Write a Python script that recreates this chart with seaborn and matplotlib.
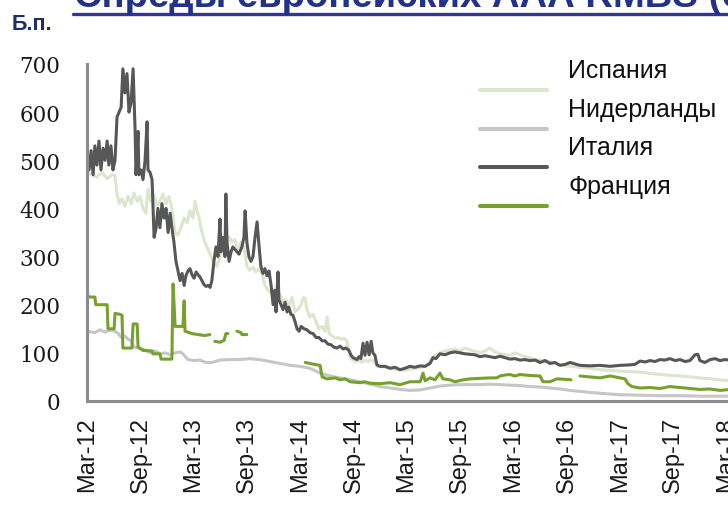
import matplotlib
matplotlib.use("Agg")
import matplotlib.pyplot as plt
import matplotlib.dates as mdates
from matplotlib.lines import Line2D
import numpy as np
import pandas as pd
import seaborn as sns

# ---------------- data ----------------
italy_dates = [
    "2012-03-01","2012-03-08","2012-03-15","2012-03-22","2012-03-28","2012-04-04","2012-04-11","2012-04-18",
    "2012-04-25","2012-05-02","2012-05-09","2012-05-15","2012-05-22","2012-05-29","2012-06-05","2012-06-12",
    "2012-06-19","2012-06-26","2012-07-02","2012-07-09","2012-07-16","2012-07-23","2012-07-30","2012-08-06",
    "2012-08-13","2012-08-16","2012-08-23","2012-08-26","2012-09-02","2012-09-09","2012-09-16","2012-09-23",
    "2012-09-26","2012-10-03","2012-10-10","2012-10-17","2012-10-24","2012-10-30","2012-11-06","2012-11-13",
    "2012-11-20","2012-11-27","2012-12-04","2012-12-11","2012-12-17","2012-12-24","2012-12-31","2013-01-07",
    "2013-01-14","2013-01-21","2013-01-28","2013-02-03","2013-02-10","2013-02-17","2013-02-24","2013-03-03",
    "2013-03-10","2013-03-17","2013-03-23","2013-03-30","2013-04-06","2013-04-13","2013-04-20","2013-04-27",
    "2013-05-03","2013-05-10","2013-05-17","2013-05-24","2013-05-31","2013-06-03","2013-06-10","2013-06-17",
    "2013-06-20","2013-06-24","2013-07-01","2013-07-08","2013-07-14","2013-07-25","2013-08-04","2013-08-14",
    "2013-08-21","2013-08-25","2013-08-31","2013-09-07","2013-09-14","2013-09-21","2013-09-28","2013-10-05",
    "2013-10-12","2013-10-18","2013-10-25","2013-11-01","2013-11-08","2013-11-15","2013-11-22","2013-11-29",
    "2013-12-05","2013-12-09","2013-12-16","2013-12-19","2013-12-26","2014-01-02","2014-01-09","2014-01-16",
    "2014-01-22","2014-01-29","2014-02-05","2014-02-12","2014-02-19","2014-02-26","2014-03-05","2014-03-15",
    "2014-03-25","2014-04-04","2014-04-15","2014-04-25","2014-05-05","2014-05-16","2014-05-26","2014-06-05",
    "2014-06-15","2014-06-25","2014-07-06","2014-07-16","2014-07-27","2014-08-06","2014-08-16","2014-08-23",
    "2014-08-30","2014-09-06","2014-09-13","2014-09-19","2014-09-26","2014-10-03","2014-10-10","2014-10-17",
    "2014-10-24","2014-10-31","2014-11-06","2014-11-13","2014-11-20","2014-11-30","2014-12-18","2015-01-04",
    "2015-01-21","2015-02-07","2015-02-24","2015-03-13","2015-03-30","2015-04-17","2015-05-04","2015-05-21",
    "2015-05-31","2015-06-10","2015-06-24","2015-07-11","2015-07-28","2015-08-14","2015-09-01","2015-09-18",
    "2015-10-05","2015-10-22","2015-11-08","2015-11-25","2015-12-12","2015-12-30","2016-01-16","2016-02-02",
    "2016-02-19","2016-03-07","2016-03-24","2016-04-10","2016-04-27","2016-05-15","2016-06-01","2016-06-18",
    "2016-07-05","2016-07-22","2016-08-08","2016-08-26","2016-09-12","2016-09-29","2016-10-16","2016-11-19",
    "2016-12-24","2017-01-27","2017-03-02","2017-04-05","2017-04-22","2017-05-10","2017-05-27","2017-06-13",
    "2017-06-30","2017-07-17","2017-08-03","2017-08-20","2017-09-07","2017-09-24","2017-10-11","2017-10-28",
    "2017-11-14","2017-11-24","2017-12-01","2017-12-18","2018-01-05","2018-01-22","2018-02-08","2018-02-25",
    "2018-03-14",
]
italy_values = [
    510, 480, 520, 470, 530, 490, 540, 480,
    525, 500, 540, 490, 530, 480, 500, 590,
    600, 610, 690, 640, 680, 600, 620, 690,
    560, 470, 560, 470, 480, 460, 500, 580,
    480, 475, 460, 340, 360, 400, 360, 410,
    380, 400, 350, 390, 360, 330, 290, 270,
    250, 265, 240, 260, 270, 275, 262, 255,
    268, 262, 258, 250, 242, 238, 240, 236,
    250, 290, 320, 300, 378, 310, 340, 300,
    430, 330, 290, 310, 320, 312, 305, 320,
    340, 395, 330, 300, 290, 300, 340, 372,
    320, 280, 265, 275, 260, 270, 240, 200,
    230, 185, 268, 210, 200, 190, 205, 185,
    195, 180, 178, 165, 150, 145, 155, 150,
    148, 142, 140, 132, 132, 125, 125, 118,
    117, 112, 110, 114, 108, 110, 105, 95,
    90, 88, 86, 92, 88, 120, 95, 122,
    96, 124, 100, 95, 75, 72, 72, 68,
    70, 65, 68, 72, 70, 73, 72, 78,
    90, 88, 98, 96, 100, 102, 100, 98,
    97, 96, 92, 94, 92, 90, 93, 90,
    87, 88, 85, 86, 84, 85, 80, 84,
    78, 80, 74, 76, 80, 77, 74, 73,
    74, 72, 74, 75, 76, 83, 81, 84,
    82, 86, 85, 88, 84, 86, 82, 84,
    96, 97, 84, 80, 86, 88, 84, 86,
    85,
]

spain_dates = [
    "2012-03-01","2012-03-18","2012-04-04","2012-04-21","2012-05-09","2012-05-26","2012-06-05","2012-06-12",
    "2012-06-19","2012-06-29","2012-07-09","2012-07-20","2012-07-30","2012-08-09","2012-08-20","2012-08-30",
    "2012-09-09","2012-09-19","2012-09-26","2012-10-06","2012-10-17","2012-10-27","2012-11-06","2012-11-16",
    "2012-11-27","2012-12-07","2012-12-17","2012-12-28","2013-01-07","2013-01-17","2013-01-28","2013-02-07",
    "2013-02-17","2013-02-27","2013-03-06","2013-03-13","2013-03-20","2013-03-30","2013-04-09","2013-04-20",
    "2013-04-30","2013-05-10","2013-05-20","2013-05-31","2013-06-10","2013-06-20","2013-07-01","2013-07-11",
    "2013-07-21","2013-08-01","2013-08-11","2013-08-21","2013-08-31","2013-09-10","2013-09-21","2013-10-01",
    "2013-10-12","2013-10-22","2013-11-01","2013-11-11","2013-11-22","2013-12-02","2013-12-12","2013-12-23",
    "2014-01-02","2014-01-12","2014-01-22","2014-02-02","2014-02-12","2014-02-22","2014-03-05","2014-03-12",
    "2014-03-19","2014-03-25","2014-04-04","2014-04-15","2014-04-25","2014-05-05","2014-05-16","2014-05-26",
    "2014-06-02","2014-06-09","2014-06-19","2014-06-30","2014-07-10","2014-07-20","2014-07-30","2014-08-09",
    "2014-08-20","2014-08-30","2014-09-09","2014-09-19","2014-09-30","2014-10-10","2014-10-20","2014-10-31",
    "2014-11-10","2014-11-20","2014-12-18","2015-01-21","2015-02-24","2015-03-30","2015-05-04","2015-05-21",
    "2015-06-07","2015-06-24","2015-07-11","2015-07-28","2015-08-14","2015-09-01","2015-09-18","2015-10-05",
    "2015-10-22","2015-11-08","2015-11-25","2015-12-12","2015-12-30","2016-01-16","2016-02-02","2016-02-19",
    "2016-03-07","2016-03-24","2016-04-10","2016-04-27","2016-05-15","2016-06-01","2016-06-18","2016-07-05",
    "2016-07-22","2016-08-08","2016-09-12","2016-10-16","2016-11-19","2016-12-24","2017-03-02","2017-05-10",
    "2017-07-17","2017-09-24","2017-12-01","2018-01-22","2018-03-14",
]
spain_values = [
    476, 470, 465, 475, 462, 470, 468, 430,
    410, 420, 405, 425, 410, 432, 415, 425,
    400, 390, 440, 415, 428, 405, 415, 430,
    410, 425, 400, 350, 345, 360, 380, 370,
    395, 380, 415, 395, 380, 350, 330, 315,
    300, 285, 280, 300, 330, 318, 340, 330,
    335, 310, 330, 320, 280, 272, 278, 268,
    275, 265, 240, 230, 225, 218, 225, 220,
    205, 210, 200, 215, 185, 190, 200, 215,
    212, 190, 175, 180, 165, 150, 155, 145,
    175, 140, 135, 130, 132, 128, 130, 125,
    90, 85, 82, 84, 80, 85, 82, 86,
    82, 72, 70, 66, 64, 68, 72, 82,
    95, 100, 104, 106, 108, 104, 110, 106,
    103, 100, 104, 110, 102, 98, 96, 95,
    100, 96, 92, 90, 86, 85, 83, 82,
    78, 75, 72, 70, 68, 65, 62, 60,
    55, 52, 48, 45, 42,
]

neth_dates = [
    "2012-03-01","2012-03-28","2012-04-15","2012-05-02","2012-05-19","2012-06-05","2012-06-16","2012-06-26",
    "2012-07-09","2012-07-20","2012-07-30","2012-08-09","2012-08-23","2012-09-06","2012-09-19","2012-10-03",
    "2012-10-21","2012-11-06","2012-11-24","2012-12-11","2012-12-28","2013-01-15","2013-01-28","2013-02-10",
    "2013-03-03","2013-03-23","2013-04-13","2013-05-03","2013-05-31","2013-07-04","2013-08-07","2013-09-10",
    "2013-10-14","2013-11-18","2013-12-23","2014-01-26","2014-03-01","2014-04-04","2014-05-09","2014-06-12",
    "2014-07-16","2014-08-20","2014-09-23","2014-10-27","2014-11-30","2015-01-04","2015-02-07","2015-03-13",
    "2015-04-17","2015-05-21","2015-06-24","2015-07-28","2015-09-01","2015-10-05","2015-11-08","2015-12-12",
    "2016-01-16","2016-02-19","2016-03-24","2016-04-27","2016-06-01","2016-07-05","2016-08-08","2016-09-12",
    "2016-10-16","2016-11-19","2016-12-24","2017-03-02","2017-05-10","2017-07-17","2017-09-24","2017-12-01",
    "2018-03-14",
]
neth_values = [
    145, 142, 148, 143, 147, 145, 140, 132,
    135, 128, 125, 112, 110, 108, 105, 100,
    104, 98, 100, 96, 100, 102, 95, 86,
    84, 85, 80, 80, 85, 86, 86, 88,
    86, 82, 78, 74, 72, 68, 58, 52,
    48, 44, 40, 35, 30, 27, 24, 22,
    23, 27, 31, 33, 34, 34, 34, 35,
    34, 33, 32, 30, 29, 27, 25, 22,
    20, 18, 16, 13, 12, 11, 11, 10,
    10,
]

# None marks a gap in the French series
france_dates = [
    "2012-03-01","2012-03-04","2012-03-28","2012-03-31","2012-04-21","2012-05-09","2012-05-12","2012-06-02",
    "2012-06-05","2012-06-22","2012-06-29","2012-07-02","2012-08-02","2012-08-06","2012-08-20","2012-08-23",
    "2012-09-09","2012-10-10","2012-10-13","2012-11-06","2012-11-10","2012-12-17","2012-12-21","2012-12-28",
    "2013-01-24","2013-01-28","2013-01-31","2013-02-24","2013-03-17","2013-04-09","2013-04-26","2013-05-03",
    "2013-05-13","2013-05-31","2013-06-14","2013-06-20","2013-06-27","2013-07-12",
    "2013-07-28","2013-08-11","2013-08-14","2013-08-31","2013-12-01",
    "2014-03-19","2014-04-04","2014-04-21","2014-05-09","2014-05-16","2014-06-02","2014-06-30","2014-07-16",
    "2014-08-03","2014-08-20","2014-09-23","2014-10-10","2014-10-27","2014-11-30","2015-01-04","2015-02-07",
    "2015-03-13","2015-04-17","2015-04-27","2015-05-04","2015-05-21","2015-06-07","2015-06-24","2015-07-04",
    "2015-07-28","2015-08-14","2015-09-11","2015-10-05","2015-11-08","2015-12-12","2016-01-05","2016-01-16",
    "2016-02-02","2016-02-19","2016-03-07","2016-03-24","2016-04-27","2016-06-01","2016-06-11","2016-07-05",
    "2016-07-29","2016-08-26","2016-09-15","2016-10-01",
    "2016-10-16","2016-11-19","2016-12-24","2017-01-27","2017-03-02","2017-03-19","2017-03-29","2017-04-12",
    "2017-05-10","2017-06-13","2017-07-17","2017-08-20","2017-09-24","2017-10-28","2017-12-01","2018-01-05",
    "2018-02-08","2018-03-14",
]
france_values = [
    247, 216, 216, 200, 200, 200, 150, 150,
    182, 180, 178, 110, 110, 160, 160, 112,
    105, 104, 98, 98, 87, 87, 243, 155,
    155, 208, 145, 140, 138, 136, 138, None,
    124, 122, 126, 140, 140, None,
    145, 142, 138, 138, None,
    80, 78, 76, 74, 50, 46, 48, 44,
    46, 40, 38, 40, 37, 36, 38, 34,
    40, 40, 58, 42, 48, 44, 58, 46,
    44, 40, 44, 46, 47, 48, 48, 52,
    54, 55, 52, 55, 53, 52, 40, 40,
    46, 45, 44, None,
    52, 50, 48, 52, 48, 46, 36, 30,
    27, 28, 26, 30, 28, 26, 24, 25,
    22, 24,
]

series_names = ["Испания", "Нидерланды", "Италия", "Франция"]
series_colors = ["#dbe6cc", "#c6c6c6", "#575757", "#76a12e"]
y_ticks = [0, 100, 200, 300, 400, 500, 600, 700]

# ---------------- build frames ----------------
def make_frame(dates, values):
    df = pd.DataFrame({"date": pd.to_datetime(dates), "value": pd.array(values, dtype="Float64")})
    df["seg"] = df["value"].isna().cumsum()
    df = df.dropna().copy()
    df["value"] = df["value"].astype(float)
    return df

frames = [
    make_frame(spain_dates, spain_values),
    make_frame(neth_dates, neth_values),
    make_frame(italy_dates, italy_values),
    make_frame(france_dates, france_values),
]

# ---------------- figure ----------------
sns.set_style("white")
plt.rcParams["font.family"] = ["Liberation Sans", "DejaVu Sans"]

W, H = 728, 506
fig = plt.figure(figsize=(W / 100, H / 100), dpi=100)
ax = fig.add_axes([87 / W, 104 / H, 666 / W, 337 / H])

for df, name, col in zip(frames, series_names, series_colors):
    sns.lineplot(data=df, x="date", y="value", units="seg", estimator=None,
                 color=col, linewidth=2.2, ax=ax, legend=False)

ax.set_xlim(pd.Timestamp("2012-03-01"), pd.Timestamp("2018-06-01"))
ax.set_ylim(0, 700)
ax.set_yticks(y_ticks)
ax.set_xlabel("")
ax.set_ylabel("")

ax.xaxis.set_major_locator(mdates.MonthLocator(bymonth=[3, 9]))
ax.xaxis.set_major_formatter(mdates.DateFormatter("%b-%y"))

for s in ["top", "right"]:
    ax.spines[s].set_visible(False)
for s in ["left", "bottom"]:
    ax.spines[s].set_color("#8c8c8c")
    ax.spines[s].set_linewidth(2.2)

ax.tick_params(axis="y", length=0, pad=19, labelsize=15.5)
ax.tick_params(axis="x", length=0, pad=11, labelsize=17, rotation=90)
for lab in ax.get_yticklabels():
    lab.set_fontfamily("DejaVu Serif")
    lab.set_color("#1a1a1a")
for lab in ax.get_xticklabels():
    lab.set_color("#1a1a1a")

# manual legend (Excel-like layout)
for i, (name, col) in enumerate(zip(series_names, series_colors)):
    ty = 71 + 38.7 * i
    ly = 91 + 38.7 * i
    fig.text(568 / W, 1 - ty / H, name, fontsize=18, color="#111111",
             ha="left", va="center")
    fig.add_artist(Line2D([480 / W, 547 / W], [1 - ly / H, 1 - ly / H],
                          transform=fig.transFigure, color=col, linewidth=2.9))

# cut-off title, rule and unit label
fig.text(74 / W, 1 - 7 / H, "Спреды европейских ААА RMBS (б.п.)", fontsize=27.5,
         fontweight="bold", color="#22318a", ha="left", va="baseline")
fig.add_artist(Line2D([73 / W, 1.0], [1 - 15 / H, 1 - 15 / H],
                      transform=fig.transFigure, color="#343399", linewidth=2.4))
fig.text(12 / W, 1 - 30 / H, "Б.п.", fontsize=15.5, fontweight="bold",
         color="#1f3060", ha="left", va="baseline")

fig.savefig("out.png", dpi=100)
